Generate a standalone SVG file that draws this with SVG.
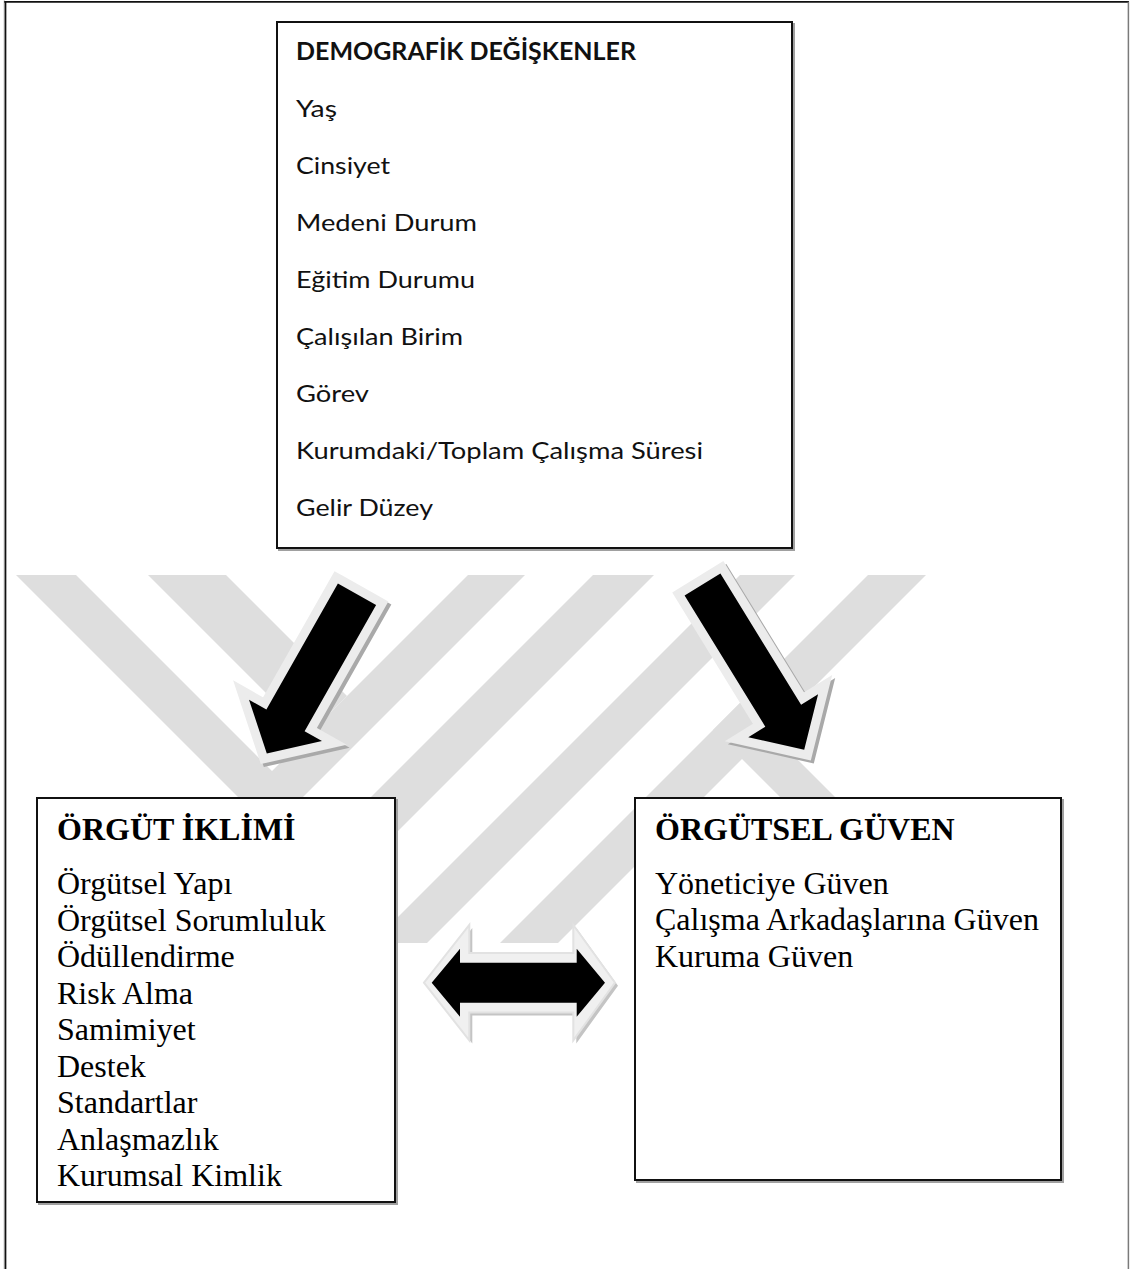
<svg xmlns="http://www.w3.org/2000/svg" width="1130" height="1269" viewBox="0 0 1130 1269">
  <style>
    .wm { fill: #dedede; }
    .box { fill: #ffffff; stroke: #111111; stroke-width: 2; }
    .boxshade { fill: none; stroke: #a0a0a0; stroke-width: 2; }
    .cal { font-family: Lato, "Noto Sans", "DejaVu Sans", sans-serif; font-size: 24px; fill: #111111; }
    .cal-b { font-weight: bold; }
    .tnr { font-family: "Liberation Serif", "Times New Roman", serif; font-size: 32px; fill: #000000; }
    .tnr-b { font-weight: bold; }
    .arr-shadow { fill: #a9a9a9; stroke: #a9a9a9; stroke-width: 18; stroke-linejoin: miter; }
    .arr-rim { fill: #ececec; stroke: #ececec; stroke-width: 18; stroke-linejoin: miter; }
    .arr-body { fill: #000000; }
  </style>

  <rect width="1130" height="1269" fill="#ffffff"/>

  <!-- page frame (open at the bottom) -->
  <g id="frame" fill="none">
    <line x1="4.3" y1="0.5" x2="4.3" y2="1269" stroke="#8a8a8a" stroke-width="1"/>
    <line x1="5.6" y1="1.8" x2="5.6" y2="1269" stroke="#111111" stroke-width="1.5"/>
    <line x1="4.3" y1="1.8" x2="1129" y2="1.8" stroke="#111111" stroke-width="1.8"/>
    <line x1="1128.4" y1="1.8" x2="1128.4" y2="1269" stroke="#7a7a7a" stroke-width="1.5"/>
  </g>

  <!-- light grey striped background emblem -->
  <g id="emblem">
    <polygon class="wm" points="16,575 76,575 272,771 468,575 525,575 270.5,829.5"/>
    <polygon class="wm" points="148,575 226,575 347,696 308,735"/>
    <polygon class="wm" points="593,575 654,575 286,943 225,943"/>
    <polygon class="wm" points="740,575 795,575 427,943 372,943"/>
    <polygon class="wm" points="868,575 926,575 558,943 500,943"/>
    <polygon class="wm" points="740.5,702.5 981,943 926,943 713,730"/>
  </g>

  <!-- connectors: block arrows -->
  <g id="connectors">
    <g id="arrow-left">
      <polygon class="arr-shadow" transform="translate(3,3)" points="337.9,583.4 376.1,605 304.6,731.2 322,741.1 266.8,753.5 249,699.7 266.4,709.6"/>
      <polygon class="arr-rim" points="337.9,583.4 376.1,605 304.6,731.2 322,741.1 266.8,753.5 249,699.7 266.4,709.6"/>
      <polygon class="arr-body" points="337.9,583.4 376.1,605 304.6,731.2 322,741.1 266.8,753.5 249,699.7 266.4,709.6"/>
    </g>
    <g id="arrow-right">
      <polygon class="arr-shadow" transform="translate(3,3)" points="720.4,573.5 684.6,595.5 765.3,726.7 748.3,737.2 804.2,749.8 818.1,694.2 801.1,704.7"/>
      <polygon class="arr-rim" points="720.4,573.5 684.6,595.5 765.3,726.7 748.3,737.2 804.2,749.8 818.1,694.2 801.1,704.7"/>
      <polygon class="arr-body" points="720.4,573.5 684.6,595.5 765.3,726.7 748.3,737.2 804.2,749.8 818.1,694.2 801.1,704.7"/>
    </g>
    <g id="arrow-both">
      <polygon fill="#c4c4c4" transform="translate(3,3)" points="424,982.7 469.3,925 469.3,953 573.3,953 573.3,925 615,982.7 573.3,1040.4 573.3,1012.4 469.3,1012.4 469.3,1040.4"/>
      <polygon fill="#f0f0f0" stroke="#e2e2e2" stroke-width="2" points="424,982.7 469.3,925 469.3,953 573.3,953 573.3,925 615,982.7 573.3,1040.4 573.3,1012.4 469.3,1012.4 469.3,1040.4"/>
      <polygon class="arr-body" points="431.7,982.7 460,948.7 460,962.7 576.7,962.7 576.7,948.7 605,982.7 576.7,1016.7 576.7,1002.7 460,1002.7 460,1016.7"/>
    </g>
  </g>

  <!-- demographic variables -->
  <g id="node-demografik">
    <rect class="boxshade" x="279" y="24" width="515" height="526"/>
    <rect class="box" x="277" y="22" width="515" height="526"/>
    <text class="cal cal-b" x="296" y="60" textLength="340" lengthAdjust="spacingAndGlyphs">DEMOGRAFİK DEĞİŞKENLER</text>
    <text class="cal" x="296" y="117" textLength="41" lengthAdjust="spacingAndGlyphs">Yaş</text>
    <text class="cal" x="296" y="174" textLength="94" lengthAdjust="spacingAndGlyphs">Cinsiyet</text>
    <text class="cal" x="296" y="231" textLength="181" lengthAdjust="spacingAndGlyphs">Medeni Durum</text>
    <text class="cal" x="296" y="288" textLength="179" lengthAdjust="spacingAndGlyphs">Eğitim Durumu</text>
    <text class="cal" x="296" y="345" textLength="167" lengthAdjust="spacingAndGlyphs">Çalışılan Birim</text>
    <text class="cal" x="296" y="402" textLength="73" lengthAdjust="spacingAndGlyphs">Görev</text>
    <text class="cal" x="296" y="459" textLength="407" lengthAdjust="spacingAndGlyphs">Kurumdaki/Toplam Çalışma Süresi</text>
    <text class="cal" x="296" y="516" textLength="137" lengthAdjust="spacingAndGlyphs">Gelir Düzey</text>
  </g>

  <!-- organisational climate -->
  <g id="node-orgut-iklimi">
    <rect class="boxshade" x="39" y="800" width="358" height="404"/>
    <rect class="box" x="37" y="798" width="358" height="404"/>
    <text class="tnr tnr-b" x="57" y="840">ÖRGÜT İKLİMİ</text>
    <text class="tnr" x="57" y="894">Örgütsel Yapı</text>
    <text class="tnr" x="57" y="931">Örgütsel Sorumluluk</text>
    <text class="tnr" x="57" y="967">Ödüllendirme</text>
    <text class="tnr" x="57" y="1004">Risk Alma</text>
    <text class="tnr" x="57" y="1040">Samimiyet</text>
    <text class="tnr" x="57" y="1077">Destek</text>
    <text class="tnr" x="57" y="1113">Standartlar</text>
    <text class="tnr" x="57" y="1150">Anlaşmazlık</text>
    <text class="tnr" x="57" y="1186">Kurumsal Kimlik</text>
  </g>

  <!-- organisational trust -->
  <g id="node-orgutsel-guven">
    <rect class="boxshade" x="637" y="800" width="426" height="382"/>
    <rect class="box" x="635" y="798" width="426" height="382"/>
    <text class="tnr tnr-b" x="655" y="840">ÖRGÜTSEL GÜVEN</text>
    <text class="tnr" x="655" y="894">Yöneticiye Güven</text>
    <text class="tnr" x="655" y="930">Çalışma Arkadaşlarına Güven</text>
    <text class="tnr" x="655" y="967">Kuruma Güven</text>
  </g>
</svg>
